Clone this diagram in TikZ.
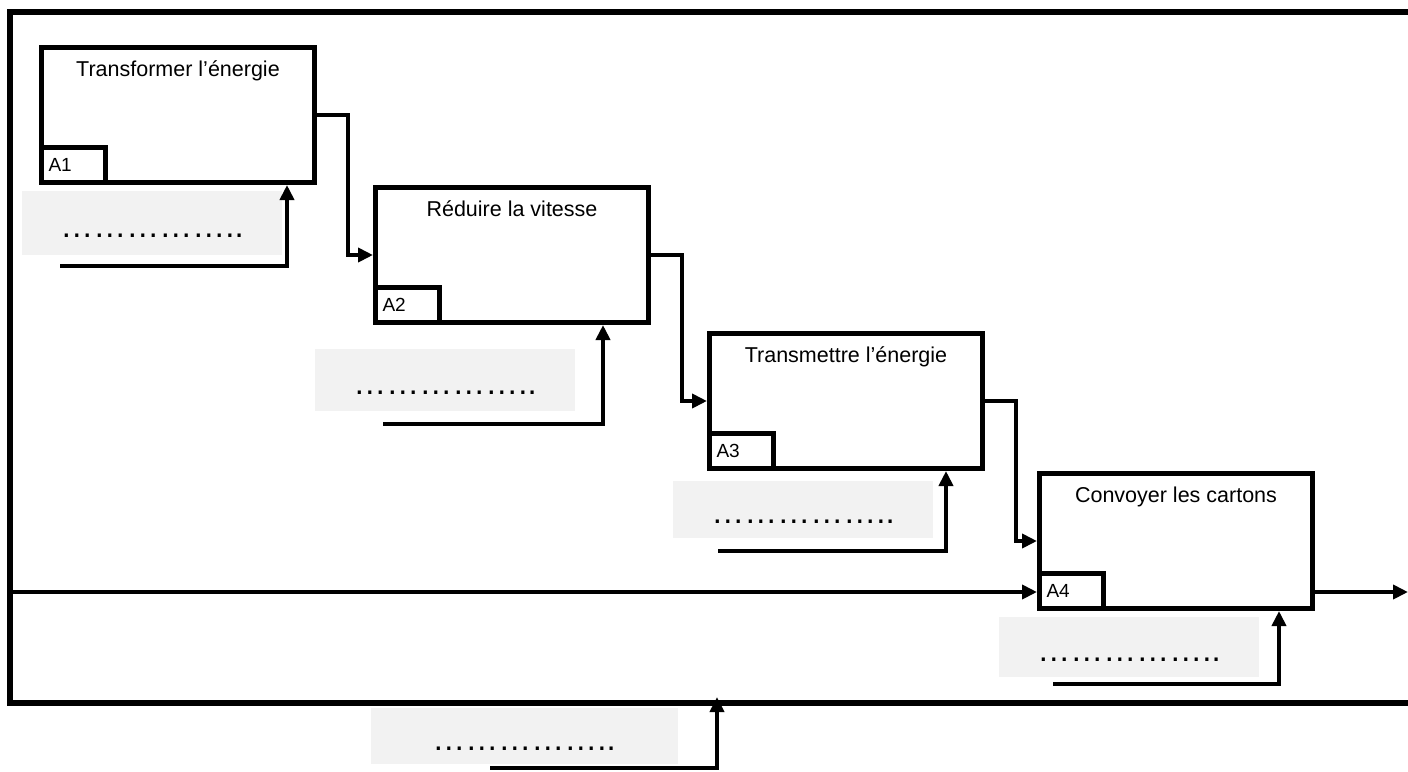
\documentclass[tikz,border=0pt]{standalone}
\usepackage{fontspec}
\setmainfont{Liberation Sans}
\usetikzlibrary{arrows.meta}
\newcommand\idfont{\fontsize{19}{22}\selectfont}

\begin{document}
\begin{tikzpicture}[x=1pt,y=-1pt,
  fonction/.style={draw,line width=5pt,minimum width=273pt,minimum height=135pt,inner sep=0pt},
  ident/.style={draw,line width=5pt,anchor=south west,minimum width=64pt,minimum height=35pt,inner xsep=7pt,inner ysep=0pt,text width=50pt,align=left},
  titre/.style={anchor=base,inner sep=0pt,font=\fontsize{21.5}{25}\selectfont},
  zone/.style={fill=gray!10,inner sep=0pt,text height=28pt,text depth=0pt,font=\fontsize{33}{36}\selectfont},
  fleche/.style={line width=4.5pt,-{Triangle[length=15pt,width=14pt]}},
  cadre/.style={line width=5.5pt}]
\useasboundingbox (0,0) rectangle (1408,771);
\draw[cadre] (1408,12) -- (10,12) -- (10,703) -- (1408,703);
\foreach \n/\cx/\cy/\titre/\gx/\gy/\gh/\ex/\ey/\mx in {
  1/178/115/Transformer l’énergie/152/223/64/60/266/287,
  2/512/255/Réduire la vitesse/445/380/62/383/424/603,
  3/846/401/Transmettre l’énergie/803/509/57/718/551/946,
  4/1176/541/Convoyer les cartons/1129/647/60/1053/684/1279} {
  \node[fonction] (A\n) at (\cx,\cy) {};
  \node[ident] (id\n) at (A\n.south west) {\idfont A\n};
  \node[titre] (t\n) at ([yshift=-31pt]A\n.north) {\titre};
  \node[zone,minimum width=260pt,minimum height=\gh pt] (g\n) at (\gx,\gy) {……………..};
  \coordinate (e\n) at (\ex,\ey);
  \coordinate (m\n) at (\mx,0);
  \draw[fleche] (e\n) -| (m\n |- A\n.south);
}
\foreach \a/\b in {1/2,2/3,3/4} {
  \draw[fleche] (A\a.east) -- ++(31,0) |- (A\b.west);
}
\node[zone,minimum width=307pt,minimum height=56pt] (g5) at (524,736) {……………..};
\coordinate (e5) at (490,768);
\coordinate (m5) at (717,697);
\draw[fleche] (e5) -| (m5);
\coordinate (entree) at (10,592);
\draw[fleche] (entree) -- (entree -| A4.west);
\coordinate (sortie) at (1408,592);
\draw[fleche] (sortie -| A4.east) -- (sortie);
\end{tikzpicture}
\end{document}
